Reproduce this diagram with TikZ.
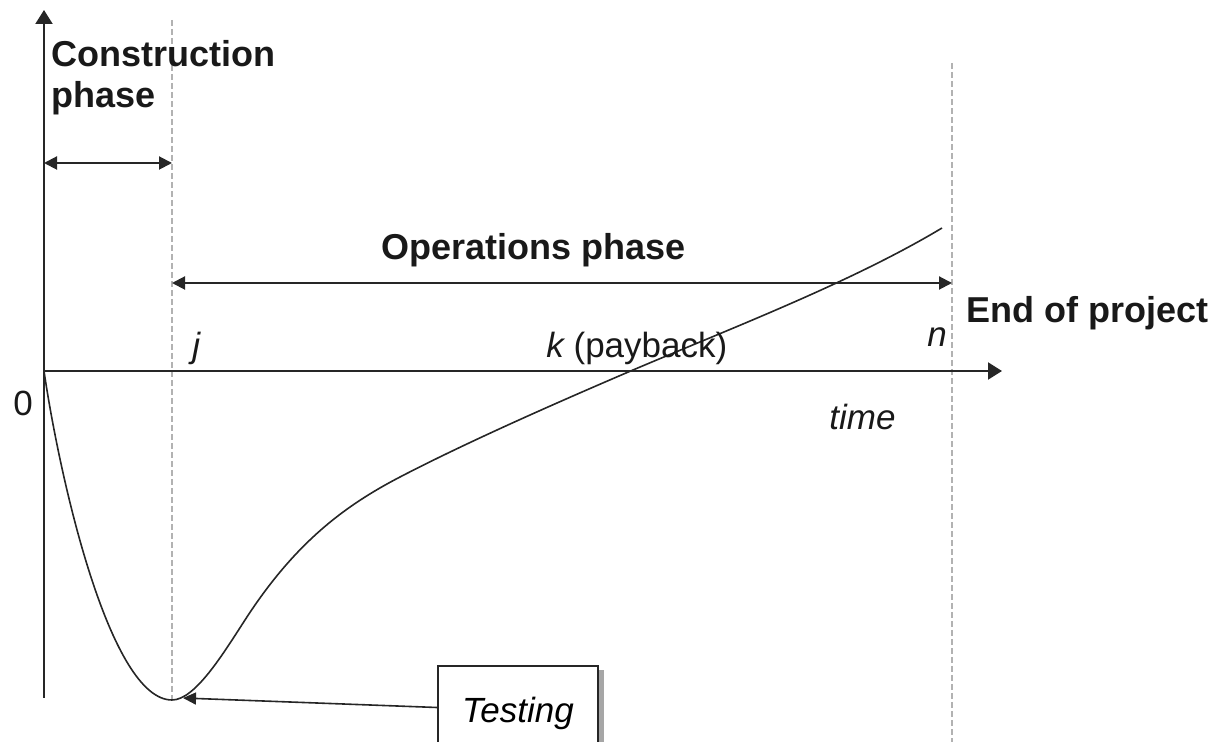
\documentclass[tikz,border=0pt]{standalone}
\usepackage{fontspec}
\setmainfont{Liberation Sans}
\usetikzlibrary{arrows.meta}
\begin{document}
\begin{tikzpicture}[x=0.5pt,y=-0.5pt,
  axisline/.style={line width=1pt, draw=black!85, -{Triangle[length=7pt,width=8.5pt]}},
  phasespan/.style={line width=1pt, draw=black!85, {Triangle[length=6.5pt,width=6.5pt]}-{Triangle[length=6.5pt,width=6.5pt]}},
  guideline/.style={draw=black!30, line width=1pt, dash pattern=on 3pt off 1.5pt},
  cashcurve/.style={draw=black!85, line width=0.8pt},
  boldlab/.style={font=\fontsize{18}{20.5}\selectfont\bfseries, inner sep=0pt, anchor=base west, text=black!90},
  plainlab/.style={font=\fontsize{17.5}{20}\selectfont, inner sep=0pt, anchor=base west, text=black!90},
  itlab/.style={plainlab, font=\fontsize{17.5}{20}\selectfont\itshape},
  testbox/.style={draw=black!85, line width=1pt, anchor=north west, minimum width=80pt,
    text height=28.5pt, text depth=13pt, inner sep=0pt, font=\fontsize{17.5}{20}\selectfont\itshape, fill=white},
  pointer/.style={line width=0.8pt, draw=black!85, -{Triangle[length=6.5pt,width=6pt]}}
]
\useasboundingbox (0,0) rectangle (1216,742);
\clip (0,0) rectangle (1216,742);

% coordinates
\coordinate (O) at (44,371);
\coordinate (ytop) at (44,10);
\coordinate (ybot) at (44,698);
\coordinate (xend) at (1002,371);
\coordinate (jtop) at (172,20);
\coordinate (trough) at (172,700);
\coordinate (ntop) at (952,63);
\coordinate (nbot) at (952,745);
\coordinate (cL) at (44,163);
\coordinate (cR) at (172,163);
\coordinate (oL) at (172,283);
\coordinate (oR) at (952,283);
\coordinate (tip) at (183,698);
\coordinate (steep) at (245,620);
\coordinate (bend) at (400,477);
\coordinate (payback) at (633,370);
\coordinate (cend) at (942,228);

% guide lines
\draw[guideline] (jtop) -- (trough);
\draw[guideline] (ntop) -- (nbot);

% axes
\draw[axisline] (ybot) -- (ytop);
\draw[axisline] (O) -- (xend);

% phase arrows
\draw[phasespan] (cL) -- (cR);
\draw[phasespan] (oL) -- (oR);

% cash curve
\draw[cashcurve] (O) .. controls (60,480) and (110,700) .. (trough)
  .. controls (195,700) and (223,654) .. (steep)
  .. controls (295,542.5) and (345,505.6) .. (bend)
  .. controls (470,440.6) and (563,400) .. (payback)
  .. controls (733,327.5) and (852,282) .. (cend);

% labels
\node[boldlab, align=left] (constr) at (51,108) {Construction\\phase};
\node[boldlab] (ops) at (381,260) {Operations phase};
\node[boldlab] (endp) at (966,323) {End of project};
\node[plainlab] (zero) at (13,416) {0};
\node[itlab] (jlab) at (192,358) {j};
\node[plainlab] (klab) at (546,358) {\itshape k\upshape{} (payback)};
\node[itlab] (nlab) at (927,347) {n};
\node[itlab] (timelab) at (829,430) {time};

% testing box with shadow
\fill[black!35] (597,670) rectangle (604,748);
\node[testbox] (test) at (437,665) {Testing};
\draw[pointer] (test.west) -- (tip);
\end{tikzpicture}
\end{document}
